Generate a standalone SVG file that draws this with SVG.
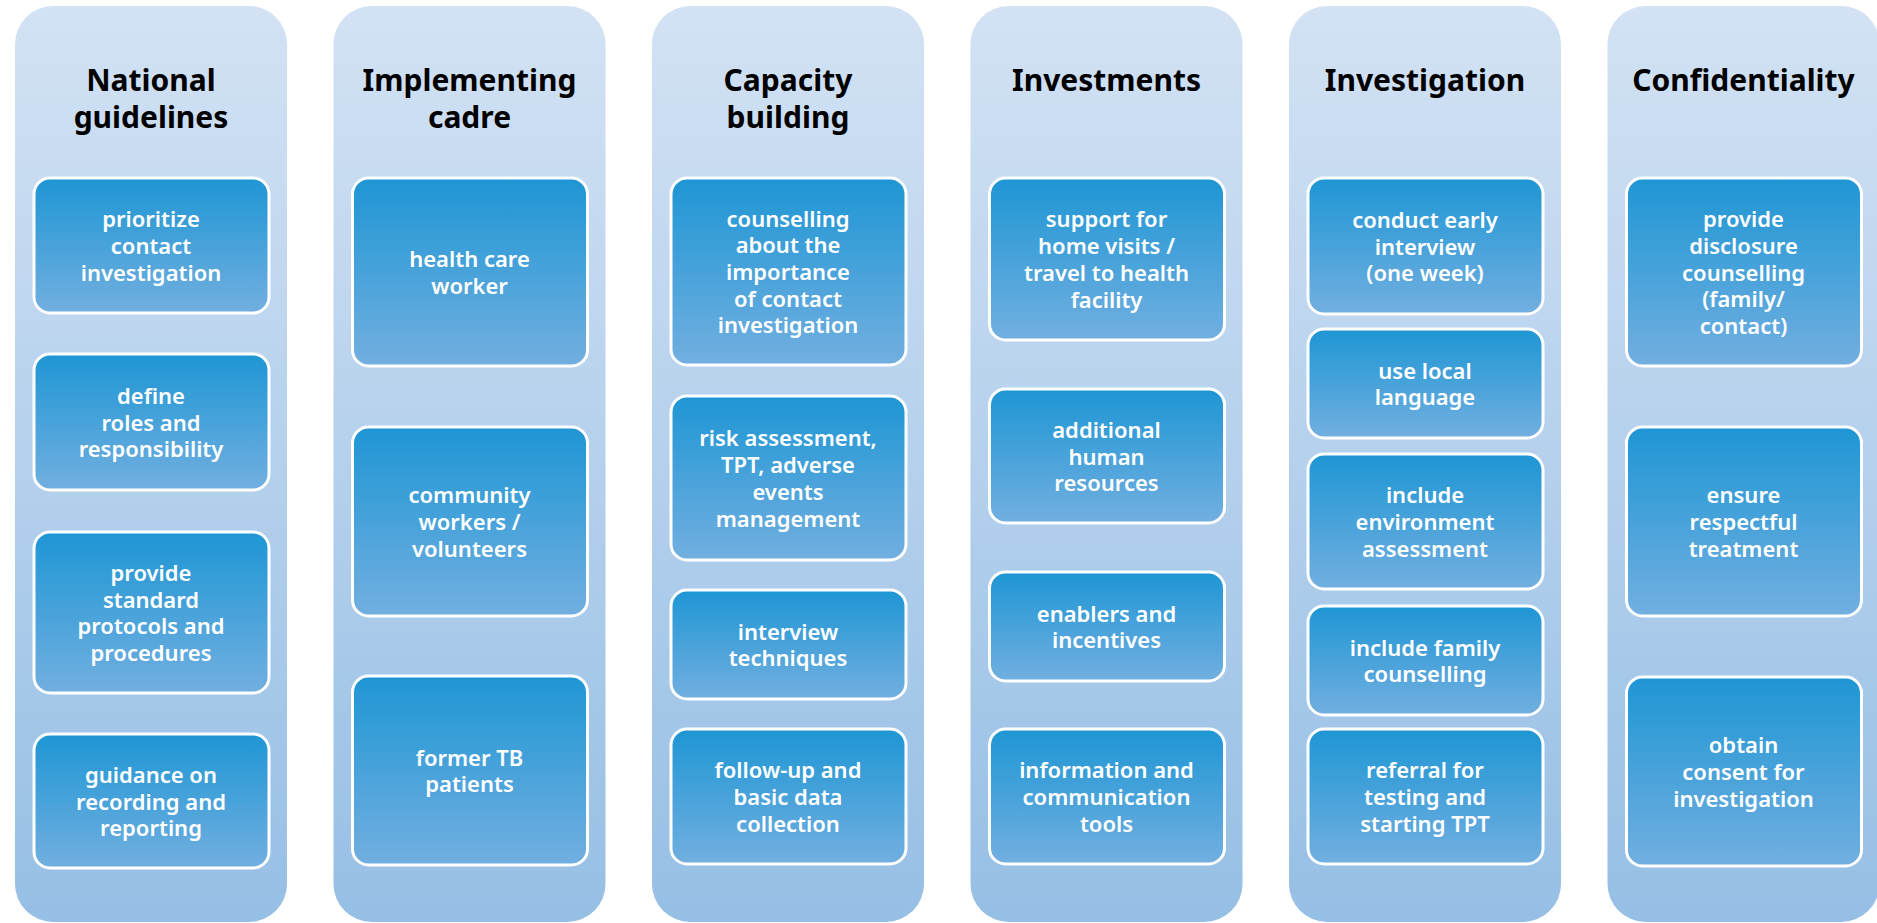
<svg xmlns="http://www.w3.org/2000/svg" width="1877" height="923" viewBox="0 0 1877 923">
<defs>
<linearGradient id="colG" x1="0" y1="0" x2="0" y2="1">
<stop offset="0" stop-color="#D3E2F4"/>
<stop offset="1" stop-color="#96BFE5"/>
</linearGradient>
<linearGradient id="boxG" x1="0" y1="0" x2="0" y2="1">
<stop offset="0" stop-color="#1E96D4"/>
<stop offset="1" stop-color="#72AFE0"/>
</linearGradient>
</defs>
<style>
.col{fill:url(#colG);}
.box{fill:url(#boxG);stroke:#FFFFFF;stroke-width:3;}
.title{font-family:"Noto Sans","Open Sans",sans-serif;font-weight:bold;font-size:30px;fill:#000000;text-anchor:middle;}
.lbl{font-family:"Noto Sans","Open Sans",sans-serif;font-weight:600;font-size:22px;fill:#FFFFFF;text-anchor:middle;}
</style>

<g id="col-national-guidelines">
<rect class="col" x="15" y="6" width="272" height="916" rx="38"/>
<text class="title" x="151" y="91">National</text>
<text class="title" x="151" y="128">guidelines</text>
</g>
<g id="n1-1"><rect class="box" x="34" y="178" width="235" height="135" rx="16"/>
<text class="lbl" x="151" y="227.3">prioritize</text><text class="lbl" x="151" y="254">contact</text><text class="lbl" x="151" y="280.7">investigation</text></g>
<g id="n1-2"><rect class="box" x="34" y="354" width="235" height="136" rx="16"/>
<text class="lbl" x="151" y="403.8">define</text><text class="lbl" x="151" y="430.5">roles and</text><text class="lbl" x="151" y="457.2">responsibility</text></g>
<g id="n1-3"><rect class="box" x="34" y="532" width="235" height="161" rx="16"/>
<text class="lbl" x="151" y="581">provide</text><text class="lbl" x="151" y="607.7">standard</text><text class="lbl" x="151" y="634.4">protocols and</text><text class="lbl" x="151" y="661.1">procedures</text></g>
<g id="n1-4"><rect class="box" x="34" y="734" width="235" height="134" rx="16"/>
<text class="lbl" x="151" y="782.8">guidance on</text><text class="lbl" x="151" y="809.5">recording and</text><text class="lbl" x="151" y="836.2">reporting</text></g>

<g id="col-implementing-cadre">
<rect class="col" x="333.5" y="6" width="272" height="916" rx="38"/>
<text class="title" x="469.5" y="91">Implementing</text>
<text class="title" x="469.5" y="128">cadre</text>
</g>
<g id="n2-1"><rect class="box" x="352.5" y="178" width="235" height="188" rx="16"/>
<text class="lbl" x="469.5" y="267.15">health care</text><text class="lbl" x="469.5" y="293.85">worker</text></g>
<g id="n2-2"><rect class="box" x="352.5" y="427" width="235" height="189" rx="16"/>
<text class="lbl" x="469.5" y="503.3">community</text><text class="lbl" x="469.5" y="530">workers /</text><text class="lbl" x="469.5" y="556.7">volunteers</text></g>
<g id="n2-3"><rect class="box" x="352.5" y="676" width="235" height="189" rx="16"/>
<text class="lbl" x="469.5" y="765.65">former TB</text><text class="lbl" x="469.5" y="792.35">patients</text></g>

<g id="col-capacity-building">
<rect class="col" x="652" y="6" width="272" height="916" rx="38"/>
<text class="title" x="788" y="91">Capacity</text>
<text class="title" x="788" y="128">building</text>
</g>
<g id="n3-1"><rect class="box" x="671" y="178" width="235" height="187" rx="16"/>
<text class="lbl" x="788" y="226.6">counselling</text><text class="lbl" x="788" y="253.3">about the</text><text class="lbl" x="788" y="280">importance</text><text class="lbl" x="788" y="306.7">of contact</text><text class="lbl" x="788" y="333.4">investigation</text></g>
<g id="n3-2"><rect class="box" x="671" y="396" width="235" height="164" rx="16"/>
<text class="lbl" x="788" y="446.45">risk assessment,</text><text class="lbl" x="788" y="473.15">TPT, adverse</text><text class="lbl" x="788" y="499.85">events</text><text class="lbl" x="788" y="526.55">management</text></g>
<g id="n3-3"><rect class="box" x="671" y="590" width="235" height="109" rx="16"/>
<text class="lbl" x="788" y="639.65">interview</text><text class="lbl" x="788" y="666.35">techniques</text></g>
<g id="n3-4"><rect class="box" x="671" y="729" width="235" height="135" rx="16"/>
<text class="lbl" x="788" y="778.3">follow-up and</text><text class="lbl" x="788" y="805">basic data</text><text class="lbl" x="788" y="831.7">collection</text></g>

<g id="col-investments">
<rect class="col" x="970.5" y="6" width="272" height="916" rx="38"/>
<text class="title" x="1106.5" y="91">Investments</text>
</g>
<g id="n4-1"><rect class="box" x="989.5" y="178" width="235" height="162" rx="16"/>
<text class="lbl" x="1106.5" y="227.45">support for</text><text class="lbl" x="1106.5" y="254.15">home visits /</text><text class="lbl" x="1106.5" y="280.85">travel to health</text><text class="lbl" x="1106.5" y="307.55">facility</text></g>
<g id="n4-2"><rect class="box" x="989.5" y="389" width="235" height="134" rx="16"/>
<text class="lbl" x="1106.5" y="437.8">additional</text><text class="lbl" x="1106.5" y="464.5">human</text><text class="lbl" x="1106.5" y="491.2">resources</text></g>
<g id="n4-3"><rect class="box" x="989.5" y="572" width="235" height="109" rx="16"/>
<text class="lbl" x="1106.5" y="621.65">enablers and</text><text class="lbl" x="1106.5" y="648.35">incentives</text></g>
<g id="n4-4"><rect class="box" x="989.5" y="729" width="235" height="135" rx="16"/>
<text class="lbl" x="1106.5" y="778.3">information and</text><text class="lbl" x="1106.5" y="805">communication</text><text class="lbl" x="1106.5" y="831.7">tools</text></g>

<g id="col-investigation">
<rect class="col" x="1289" y="6" width="272" height="916" rx="38"/>
<text class="title" x="1425" y="91">Investigation</text>
</g>
<g id="n5-1"><rect class="box" x="1308" y="178" width="235" height="136" rx="16"/>
<text class="lbl" x="1425" y="227.8">conduct early</text><text class="lbl" x="1425" y="254.5">interview</text><text class="lbl" x="1425" y="281.2">(one week)</text></g>
<g id="n5-2"><rect class="box" x="1308" y="329" width="235" height="109" rx="16"/>
<text class="lbl" x="1425" y="378.65">use local</text><text class="lbl" x="1425" y="405.35">language</text></g>
<g id="n5-3"><rect class="box" x="1308" y="454" width="235" height="135" rx="16"/>
<text class="lbl" x="1425" y="503.3">include</text><text class="lbl" x="1425" y="530">environment</text><text class="lbl" x="1425" y="556.7">assessment</text></g>
<g id="n5-4"><rect class="box" x="1308" y="606" width="235" height="109" rx="16"/>
<text class="lbl" x="1425" y="655.65">include family</text><text class="lbl" x="1425" y="682.35">counselling</text></g>
<g id="n5-5"><rect class="box" x="1308" y="729" width="235" height="135" rx="16"/>
<text class="lbl" x="1425" y="778.3">referral for</text><text class="lbl" x="1425" y="805">testing and</text><text class="lbl" x="1425" y="831.7">starting TPT</text></g>

<g id="col-confidentiality">
<rect class="col" x="1607.5" y="6" width="272" height="916" rx="38"/>
<text class="title" x="1743.5" y="91">Confidentiality</text>
</g>
<g id="n6-1"><rect class="box" x="1626.5" y="178" width="235" height="188" rx="16"/>
<text class="lbl" x="1743.5" y="227.1">provide</text><text class="lbl" x="1743.5" y="253.8">disclosure</text><text class="lbl" x="1743.5" y="280.5">counselling</text><text class="lbl" x="1743.5" y="307.2">(family/</text><text class="lbl" x="1743.5" y="333.9">contact)</text></g>
<g id="n6-2"><rect class="box" x="1626.5" y="427" width="235" height="189" rx="16"/>
<text class="lbl" x="1743.5" y="503.3">ensure</text><text class="lbl" x="1743.5" y="530">respectful</text><text class="lbl" x="1743.5" y="556.7">treatment</text></g>
<g id="n6-3"><rect class="box" x="1626.5" y="677" width="235" height="189" rx="16"/>
<text class="lbl" x="1743.5" y="753.3">obtain</text><text class="lbl" x="1743.5" y="780">consent for</text><text class="lbl" x="1743.5" y="806.7">investigation</text></g>

<g id="connectors"/>
</svg>
